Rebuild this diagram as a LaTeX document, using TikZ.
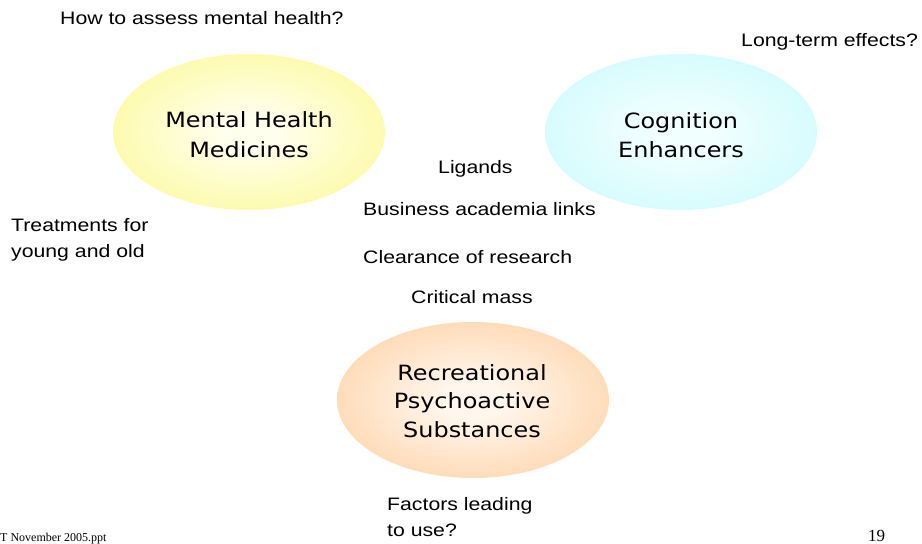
\documentclass[tikz,border=0pt]{standalone}
\usepackage{fontspec}
\usepackage{graphicx}
\setmainfont{Liberation Sans}
\newfontfamily\verdfont{DejaVu Sans}
\newfontfamily\timesfont{Liberation Serif}
\usetikzlibrary{shapes.geometric}
\definecolor{yelin}{RGB}{255,255,238}
\definecolor{yelout}{RGB}{252,248,135}
\definecolor{cyin}{RGB}{242,255,255}
\definecolor{cyout}{RGB}{198,249,253}
\definecolor{orin}{RGB}{255,247,238}
\definecolor{orout}{RGB}{254,203,152}
\pgfdeclareradialshading{yelshade}{\pgfpoint{0bp}{0bp}}{color(0bp)=(yelin); color(5bp)=(yelin); color(38bp)=(yelout); color(50bp)=(yelout)}
\pgfdeclareradialshading{cyshade}{\pgfpoint{0bp}{0bp}}{color(0bp)=(cyin); color(5bp)=(cyin); color(38bp)=(cyout); color(50bp)=(cyout)}
\pgfdeclareradialshading{orshade}{\pgfpoint{0bp}{0bp}}{color(0bp)=(orin); color(5bp)=(orin); color(38bp)=(orout); color(50bp)=(orout)}
\newcommand\wlines[3]{\scalebox{#1}[1]{\begin{tabular}[t]{@{}#2@{}}#3\end{tabular}}}
\begin{document}
\begin{tikzpicture}[x=1pt,y=-1pt,
  blob/.style={ellipse, draw=none, shade, minimum width=272pt, minimum height=156pt, inner sep=0pt},
  lab/.style={font=\fontsize{18}{26}\selectfont, inner sep=0pt, anchor=base west},
  blobtext/.style={font=\verdfont\fontsize{21}{29}\selectfont, inner sep=0pt, anchor=base},
  foot/.style={font=\timesfont, inner sep=0pt, anchor=base west}]
\useasboundingbox (0,0) rectangle (922,544);
% ellipses
\node[blob, shading=yelshade] (mhm) at (249,132) {};
\node[blob, shading=cyshade] (cog) at (681,132) {};
\node[blob, shading=orshade] (rps) at (473,400) {};
% ellipse texts
\node[blobtext, font=\verdfont\fontsize{21}{30}\selectfont] (mhmt) at (249,127) {\wlines{1.14}{c}{Mental Health\\Medicines}};
\node[blobtext] (cogt) at (681,128) {\wlines{1.14}{c}{Cognition\\Enhancers}};
\node[blobtext, font=\verdfont\fontsize{21}{28.5}\selectfont] (rpst) at (472,380) {\wlines{1.14}{c}{Recreational\\Psychoactive\\Substances}};
% labels
\node[lab] (howto) at (60,24) {\wlines{1.18}{l}{How to assess mental health?}};
\node[lab] (longterm) at (741,46) {\wlines{1.18}{l}{Long-term effects?}};
\node[lab] (ligands) at (438,173) {\wlines{1.18}{l}{Ligands}};
\node[lab] (business) at (363,215) {\wlines{1.18}{l}{Business academia links}};
\node[lab] (clearance) at (363,263) {\wlines{1.18}{l}{Clearance of research}};
\node[lab] (critical) at (411,303) {\wlines{1.18}{l}{Critical mass}};
\node[lab] (treat) at (11,231) {\wlines{1.18}{l}{Treatments for\\young and old}};
\node[lab, font=\fontsize{18}{26.5}\selectfont] (factors) at (387,510) {\wlines{1.18}{l}{Factors leading\\to use?}};
% footer
\node[foot, font=\timesfont\fontsize{12}{14}\selectfont] (file) at (0,541) {T November 2005.ppt};
\node[foot, font=\timesfont\fontsize{17}{20}\selectfont] (page) at (868,541) {19};
\end{tikzpicture}
\end{document}
